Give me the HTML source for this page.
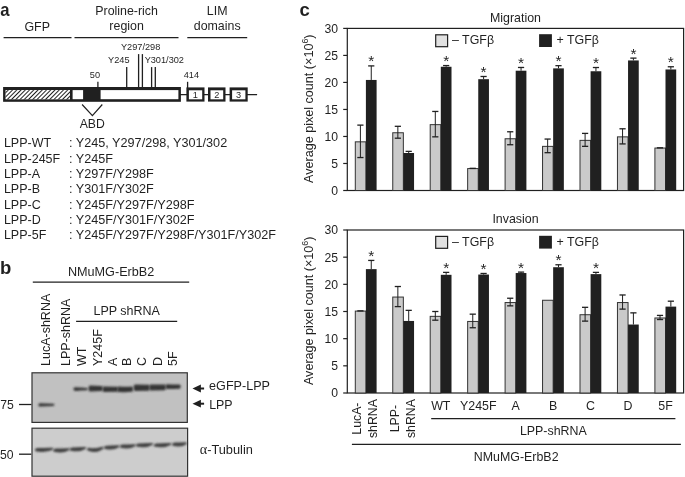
<!DOCTYPE html>
<html><head><meta charset="utf-8"><style>
html,body{margin:0;padding:0;background:#fff;}
svg{display:block;font-family:"Liberation Sans", sans-serif;filter:grayscale(1);}
svg text{fill:#231f20;}
svg line{stroke:#231f20;}
</style></head><body>
<svg width="685" height="477" viewBox="0 0 685 477">
<rect width="685" height="477" fill="#fff"/>
<text transform="translate(0.2,15.6) scale(0.9,1)" font-size="18.5" font-weight="bold" fill="#231f20">a</text>
<text x="37.2" y="30.5" font-size="12.4" text-anchor="middle">GFP</text>
<text x="126.6" y="15.4" font-size="12.4" text-anchor="middle">Proline-rich</text>
<text x="126.6" y="29.9" font-size="12.4" text-anchor="middle">region</text>
<text x="217.2" y="15.4" font-size="12.4" text-anchor="middle">LIM</text>
<text x="217.2" y="30.4" font-size="12.4" text-anchor="middle">domains</text>
<line x1="3.60" y1="37.60" x2="71.50" y2="37.60" stroke-width="1.3"/>
<line x1="74.50" y1="37.60" x2="178.50" y2="37.60" stroke-width="1.3"/>
<line x1="187.30" y1="37.60" x2="247.20" y2="37.60" stroke-width="1.3"/>
<line x1="180.00" y1="94.60" x2="257.10" y2="94.60" stroke-width="1.3"/>
<defs><pattern id="hatch" patternUnits="userSpaceOnUse" width="3.0" height="3.0" patternTransform="rotate(45)"><rect width="3.0" height="3.0" fill="#fff"/><rect width="1.0" height="3.0" fill="#231f20"/></pattern></defs>
<rect x="3.10" y="87.00" width="177.80" height="14.80" fill="#231f20"/>
<rect x="5.70" y="90.10" width="172.70" height="9.10" fill="#fff"/>
<rect x="5.70" y="90.10" width="64.30" height="9.10" fill="url(#hatch)"/>
<rect x="70.00" y="89.00" width="2.60" height="11.00" fill="#231f20"/>
<rect x="83.10" y="89.00" width="17.50" height="11.00" fill="#231f20"/>
<line x1="97.90" y1="81.80" x2="97.90" y2="88.00" stroke-width="1.3"/>
<text x="94.9" y="77.9" font-size="9.2" text-anchor="middle" fill="#2b2b2b">50</text>
<line x1="126.70" y1="67.10" x2="126.70" y2="88.00" stroke-width="1.3"/>
<text x="118.8" y="62.7" font-size="9.2" text-anchor="middle" fill="#2b2b2b">Y245</text>
<line x1="138.60" y1="54.10" x2="138.60" y2="88.00" stroke-width="1.3"/>
<line x1="142.40" y1="54.10" x2="142.40" y2="88.00" stroke-width="1.3"/>
<text x="140.6" y="49.5" font-size="9.2" text-anchor="middle" fill="#2b2b2b">Y297/298</text>
<line x1="151.60" y1="67.10" x2="151.60" y2="88.00" stroke-width="1.3"/>
<line x1="155.30" y1="67.10" x2="155.30" y2="88.00" stroke-width="1.3"/>
<text x="164.3" y="62.6" font-size="9.2" text-anchor="middle" fill="#2b2b2b">Y301/302</text>
<line x1="187.60" y1="81.80" x2="187.60" y2="88.00" stroke-width="1.3"/>
<text x="191.4" y="77.6" font-size="9.2" text-anchor="middle" fill="#2b2b2b">414</text>
<rect x="186.40" y="87.40" width="18.10" height="14.20" fill="#231f20"/>
<rect x="188.90" y="90.30" width="13.30" height="9.00" fill="#fff"/>
<text x="195.4" y="97.6" font-size="9.2" text-anchor="middle" fill="#2b2b2b">1</text>
<rect x="208.00" y="87.40" width="17.50" height="14.20" fill="#231f20"/>
<rect x="210.50" y="90.30" width="12.70" height="9.00" fill="#fff"/>
<text x="216.8" y="97.6" font-size="9.2" text-anchor="middle" fill="#2b2b2b">2</text>
<rect x="229.60" y="87.40" width="18.10" height="14.20" fill="#231f20"/>
<rect x="232.10" y="90.30" width="13.30" height="9.00" fill="#fff"/>
<text x="238.6" y="97.6" font-size="9.2" text-anchor="middle" fill="#2b2b2b">3</text>
<polyline points="82.1,104.5 92.4,115.6 102.3,104.5" fill="none" stroke="#231f20" stroke-width="1.2"/>
<text x="92.2" y="127.7" font-size="12.2" text-anchor="middle">ABD</text>
<text x="3.9" y="147.3" font-size="12.5">LPP-WT</text>
<text x="69.0" y="147.3" font-size="12.65">: Y245, Y297/298, Y301/302</text>
<text x="3.9" y="162.6" font-size="12.5">LPP-245F</text>
<text x="69.0" y="162.6" font-size="12.65">: Y245F</text>
<text x="3.9" y="177.9" font-size="12.5">LPP-A</text>
<text x="69.0" y="177.9" font-size="12.65">: Y297F/Y298F</text>
<text x="3.9" y="193.2" font-size="12.5">LPP-B</text>
<text x="69.0" y="193.2" font-size="12.65">: Y301F/Y302F</text>
<text x="3.9" y="208.5" font-size="12.5">LPP-C</text>
<text x="69.0" y="208.5" font-size="12.65">: Y245F/Y297F/Y298F</text>
<text x="3.9" y="223.8" font-size="12.5">LPP-D</text>
<text x="69.0" y="223.8" font-size="12.65">: Y245F/Y301F/Y302F</text>
<text x="3.9" y="239.1" font-size="12.5">LPP-5F</text>
<text x="69.0" y="239.1" font-size="12.65">: Y245F/Y297F/Y298F/Y301F/Y302F</text>
<text x="0.0" y="273.6" font-size="18.5" font-weight="bold">b</text>
<text x="111.1" y="276.2" font-size="12.65" text-anchor="middle">NMuMG-ErbB2</text>
<line x1="32.80" y1="282.20" x2="189.20" y2="282.20" stroke-width="1.3"/>
<text x="126.7" y="315.3" font-size="12.5" text-anchor="middle">LPP shRNA</text>
<line x1="76.10" y1="321.30" x2="177.20" y2="321.30" stroke-width="1.3"/>
<text transform="translate(50.40,366.0) rotate(-90)" x="0" y="0" font-size="12.5" fill="#231f20">LucA-shRNA</text>
<text transform="translate(69.90,366.0) rotate(-90)" x="0" y="0" font-size="12.5" fill="#231f20">LPP-shRNA</text>
<text transform="translate(86.20,366.0) rotate(-90)" x="0" y="0" font-size="12.5" fill="#231f20">WT</text>
<text transform="translate(101.60,366.0) rotate(-90)" x="0" y="0" font-size="12.5" fill="#231f20">Y245F</text>
<text transform="translate(116.60,366.0) rotate(-90)" x="0" y="0" font-size="12.5" fill="#231f20">A</text>
<text transform="translate(131.40,366.0) rotate(-90)" x="0" y="0" font-size="12.5" fill="#231f20">B</text>
<text transform="translate(146.40,366.0) rotate(-90)" x="0" y="0" font-size="12.5" fill="#231f20">C</text>
<text transform="translate(162.20,366.0) rotate(-90)" x="0" y="0" font-size="12.5" fill="#231f20">D</text>
<text transform="translate(177.40,366.0) rotate(-90)" x="0" y="0" font-size="12.5" fill="#231f20">5F</text>
<rect x="32.00" y="372.80" width="155.30" height="49.60" fill="#c0c1c4" stroke="#333" stroke-width="1.2"/>
<rect x="32.00" y="428.20" width="155.60" height="48.00" fill="#cccdcf" stroke="#333" stroke-width="1.2"/>
<line x1="19.00" y1="404.50" x2="31.40" y2="404.50" stroke-width="1.3"/>
<text x="0.2" y="408.8" font-size="12.2">75</text>
<line x1="19.00" y1="454.20" x2="31.30" y2="454.20" stroke-width="1.3"/>
<text x="0.0" y="458.8" font-size="12.2">50</text>
<defs><filter id="bl" x="-20%" y="-80%" width="140%" height="260%"><feGaussianBlur stdDeviation="0.85"/></filter></defs>
<path d="M38.40,404.90 C38.40,403.20 39.40,403.20 40.40,403.20 Q46.60,403.50 53.30,403.80 C54.80,403.80 54.80,406.00 53.30,406.00 Q46.60,406.30 40.40,406.60 C39.40,406.60 38.40,406.60 38.40,404.90Z" fill="#353539" filter="url(#bl)"/>
<path d="M73.50,389.10 C73.50,387.30 74.50,387.30 75.50,387.30 Q80.85,387.65 86.70,388.00 C88.20,388.00 88.20,390.20 86.70,390.20 Q80.85,390.55 75.50,390.90 C74.50,390.90 73.50,390.90 73.50,389.10Z" fill="#353539" filter="url(#bl)"/>
<path d="M88.60,388.40 C88.60,385.40 89.60,385.40 90.60,385.40 Q95.90,385.65 101.70,385.90 C103.20,385.90 103.20,390.90 101.70,390.90 Q95.90,391.15 90.60,391.40 C89.60,391.40 88.60,391.40 88.60,388.40Z" fill="#353539" filter="url(#bl)"/>
<path d="M102.60,389.20 C102.60,386.50 103.60,386.50 104.60,386.50 Q110.55,386.60 117.00,386.70 C118.50,386.70 118.50,391.70 117.00,391.70 Q110.55,391.80 104.60,391.90 C103.60,391.90 102.60,391.90 102.60,389.20Z" fill="#353539" filter="url(#bl)"/>
<path d="M117.30,389.20 C117.30,386.40 118.30,386.40 119.30,386.40 Q125.40,387.10 132.00,386.60 C133.50,386.60 133.50,391.80 132.00,391.80 Q125.40,392.50 119.30,392.00 C118.30,392.00 117.30,392.00 117.30,389.20Z" fill="#353539" filter="url(#bl)"/>
<path d="M133.70,387.70 C133.70,384.50 134.70,384.50 135.70,384.50 Q141.90,384.60 148.60,384.70 C150.10,384.70 150.10,390.70 148.60,390.70 Q141.90,390.80 135.70,390.90 C134.70,390.90 133.70,390.90 133.70,387.70Z" fill="#353539" filter="url(#bl)"/>
<path d="M149.30,387.40 C149.30,384.40 150.30,384.40 151.30,384.40 Q157.75,384.50 164.70,384.60 C166.20,384.60 166.20,390.20 164.70,390.20 Q157.75,390.30 151.30,390.40 C150.30,390.40 149.30,390.40 149.30,387.40Z" fill="#353539" filter="url(#bl)"/>
<path d="M165.50,386.70 C165.50,384.30 166.50,384.30 167.50,384.30 Q173.30,384.45 179.60,384.60 C181.10,384.60 181.10,388.80 179.60,388.80 Q173.30,388.95 167.50,389.10 C166.50,389.10 165.50,389.10 165.50,386.70Z" fill="#353539" filter="url(#bl)"/>
<path d="M34.80,449.80 Q35.30,448.11 37.80,448.11 Q44.20,448.11 51.10,447.69 Q53.60,447.48 53.60,449.16 Q46.20,453.15 36.80,451.47 Q34.80,451.26 34.80,449.80Z" fill="#3e3e42" filter="url(#bl)"/>
<path d="M53.10,450.30 Q53.60,448.61 56.10,448.61 Q61.50,448.61 67.40,448.19 Q69.90,447.98 69.90,449.66 Q63.50,453.65 55.10,451.97 Q53.10,451.76 53.10,450.30Z" fill="#3e3e42" filter="url(#bl)"/>
<path d="M69.50,449.20 Q70.00,447.51 72.50,447.51 Q77.90,447.51 83.80,447.09 Q86.30,446.88 86.30,448.56 Q79.90,452.55 71.50,450.87 Q69.50,450.66 69.50,449.20Z" fill="#3e3e42" filter="url(#bl)"/>
<path d="M87.00,449.00 Q87.50,447.31 90.00,448.03 Q95.40,448.75 101.30,446.89 Q103.80,446.68 103.80,448.36 Q97.40,454.03 89.00,451.03 Q87.00,450.46 87.00,449.00Z" fill="#3e3e42" filter="url(#bl)"/>
<path d="M103.80,447.40 Q104.30,445.71 106.80,445.71 Q111.80,445.71 117.30,445.29 Q119.80,445.08 119.80,446.76 Q113.80,450.75 105.80,449.07 Q103.80,448.86 103.80,447.40Z" fill="#3e3e42" filter="url(#bl)"/>
<path d="M119.80,446.30 Q120.30,444.61 122.80,444.61 Q127.90,444.61 133.50,444.19 Q136.00,443.98 136.00,445.66 Q129.90,449.65 121.80,447.97 Q119.80,447.76 119.80,446.30Z" fill="#3e3e42" filter="url(#bl)"/>
<path d="M135.80,445.10 Q136.30,443.41 138.80,443.41 Q144.50,443.41 150.70,442.99 Q153.20,442.78 153.20,444.46 Q146.50,448.45 137.80,446.77 Q135.80,446.56 135.80,445.10Z" fill="#3e3e42" filter="url(#bl)"/>
<path d="M153.60,445.10 Q154.10,443.41 156.60,443.41 Q162.60,443.41 169.10,442.99 Q171.60,442.78 171.60,444.46 Q164.60,448.45 155.60,446.77 Q153.60,446.56 153.60,445.10Z" fill="#3e3e42" filter="url(#bl)"/>
<path d="M172.00,444.30 Q172.50,442.61 175.00,442.61 Q179.60,442.61 184.70,442.19 Q187.20,441.98 187.20,443.66 Q181.60,447.65 174.00,445.97 Q172.00,445.76 172.00,444.30Z" fill="#3e3e42" filter="url(#bl)"/>
<polygon points="192.5,388.50 200.9,384.60 200.9,392.40" fill="#231f20"/>
<line x1="199.00" y1="388.50" x2="204.10" y2="388.50" stroke-width="2.0"/>
<polygon points="192.5,403.70 200.9,399.80 200.9,407.60" fill="#231f20"/>
<line x1="199.00" y1="403.70" x2="204.10" y2="403.70" stroke-width="2.0"/>
<text x="209.1" y="389.6" font-size="12.6">eGFP-LPP</text>
<text x="209.2" y="409.0" font-size="12.4">LPP</text>
<text x="199.7" y="453.5" font-size="12.8"><tspan font-family="Liberation Serif" font-size="14.2">&#945;</tspan>-Tubulin</text>
<text x="299.6" y="15.5" font-size="18.5" font-weight="bold">c</text>
<text x="515.5" y="21.8" font-size="12.4" text-anchor="middle">Migration</text>
<rect x="347.30" y="28.40" width="336.30" height="162.10" fill="none" stroke="#231f20" stroke-width="1.2"/>
<line x1="343.20" y1="190.50" x2="347.30" y2="190.50" stroke-width="1.2"/>
<text x="338.0" y="194.8" font-size="12.2" text-anchor="end">0</text>
<line x1="343.20" y1="163.48" x2="347.30" y2="163.48" stroke-width="1.2"/>
<text x="338.0" y="167.8" font-size="12.2" text-anchor="end">5</text>
<line x1="343.20" y1="136.47" x2="347.30" y2="136.47" stroke-width="1.2"/>
<text x="338.0" y="140.8" font-size="12.2" text-anchor="end">10</text>
<line x1="343.20" y1="109.45" x2="347.30" y2="109.45" stroke-width="1.2"/>
<text x="338.0" y="113.8" font-size="12.2" text-anchor="end">15</text>
<line x1="343.20" y1="82.43" x2="347.30" y2="82.43" stroke-width="1.2"/>
<text x="338.0" y="86.7" font-size="12.2" text-anchor="end">20</text>
<line x1="343.20" y1="55.42" x2="347.30" y2="55.42" stroke-width="1.2"/>
<text x="338.0" y="59.7" font-size="12.2" text-anchor="end">25</text>
<line x1="343.20" y1="28.40" x2="347.30" y2="28.40" stroke-width="1.2"/>
<text x="338.0" y="32.7" font-size="12.2" text-anchor="end">30</text>
<text transform="translate(312.9,108.75) rotate(-90)" x="0" y="0" font-size="12.6" text-anchor="middle" fill="#231f20">Average pixel count (×10<tspan font-size="8.8" dy="-4.6">6</tspan><tspan dy="4.6">)</tspan></text>
<rect x="435.70" y="34.80" width="11.90" height="11.90" fill="#e1e1e1" stroke="#231f20" stroke-width="1.2"/>
<text x="452.0" y="44.3" font-size="12.4">– TGFβ</text>
<rect x="539.10" y="34.20" width="12.80" height="12.80" fill="#231f20"/>
<text x="556.5" y="44.3" font-size="12.4">+ TGFβ</text>
<rect x="355.30" y="141.83" width="10.60" height="48.67" fill="#c9cacd" stroke="#333" stroke-width="1.0"/>
<rect x="365.90" y="79.95" width="10.70" height="110.55" fill="#231f20"/>
<line x1="360.40" y1="125.12" x2="360.40" y2="157.54" stroke-width="1.0"/>
<line x1="357.30" y1="125.12" x2="363.50" y2="125.12" stroke-width="1.3"/>
<line x1="357.30" y1="157.54" x2="363.50" y2="157.54" stroke-width="1.3"/>
<line x1="371.25" y1="65.90" x2="371.25" y2="79.95" stroke-width="1.0"/>
<line x1="368.15" y1="65.90" x2="374.35" y2="65.90" stroke-width="1.3"/>
<text x="371.25" y="66.30" font-size="15.5" text-anchor="middle" fill="#231f20">*</text>
<rect x="392.75" y="132.75" width="10.60" height="57.75" fill="#c9cacd" stroke="#333" stroke-width="1.0"/>
<rect x="403.35" y="153.00" width="10.70" height="37.50" fill="#231f20"/>
<line x1="397.85" y1="126.31" x2="397.85" y2="138.20" stroke-width="1.0"/>
<line x1="394.75" y1="126.31" x2="400.95" y2="126.31" stroke-width="1.3"/>
<line x1="394.75" y1="138.20" x2="400.95" y2="138.20" stroke-width="1.3"/>
<line x1="408.70" y1="151.38" x2="408.70" y2="153.00" stroke-width="1.0"/>
<line x1="405.60" y1="151.38" x2="411.80" y2="151.38" stroke-width="1.3"/>
<rect x="430.20" y="124.65" width="10.60" height="65.85" fill="#c9cacd" stroke="#333" stroke-width="1.0"/>
<rect x="440.80" y="66.76" width="10.70" height="123.74" fill="#231f20"/>
<line x1="435.30" y1="111.45" x2="435.30" y2="136.84" stroke-width="1.0"/>
<line x1="432.20" y1="111.45" x2="438.40" y2="111.45" stroke-width="1.3"/>
<line x1="432.20" y1="136.84" x2="438.40" y2="136.84" stroke-width="1.3"/>
<line x1="446.15" y1="65.57" x2="446.15" y2="66.76" stroke-width="1.0"/>
<line x1="443.05" y1="65.57" x2="449.25" y2="65.57" stroke-width="1.3"/>
<text x="446.15" y="65.97" font-size="15.5" text-anchor="middle" fill="#231f20">*</text>
<rect x="467.65" y="168.58" width="10.60" height="21.92" fill="#c9cacd" stroke="#333" stroke-width="1.0"/>
<rect x="478.25" y="79.19" width="10.70" height="111.31" fill="#231f20"/>
<line x1="469.65" y1="168.38" x2="475.85" y2="168.38" stroke-width="1.4"/>
<line x1="483.60" y1="76.49" x2="483.60" y2="79.19" stroke-width="1.0"/>
<line x1="480.50" y1="76.49" x2="486.70" y2="76.49" stroke-width="1.3"/>
<text x="483.60" y="76.89" font-size="15.5" text-anchor="middle" fill="#231f20">*</text>
<rect x="505.10" y="138.75" width="10.60" height="51.75" fill="#c9cacd" stroke="#333" stroke-width="1.0"/>
<rect x="515.70" y="70.71" width="10.70" height="119.79" fill="#231f20"/>
<line x1="510.20" y1="131.77" x2="510.20" y2="144.73" stroke-width="1.0"/>
<line x1="507.10" y1="131.77" x2="513.30" y2="131.77" stroke-width="1.3"/>
<line x1="507.10" y1="144.73" x2="513.30" y2="144.73" stroke-width="1.3"/>
<line x1="521.05" y1="67.47" x2="521.05" y2="70.71" stroke-width="1.0"/>
<line x1="517.95" y1="67.47" x2="524.15" y2="67.47" stroke-width="1.3"/>
<text x="521.05" y="67.87" font-size="15.5" text-anchor="middle" fill="#231f20">*</text>
<rect x="542.55" y="146.37" width="10.60" height="44.13" fill="#c9cacd" stroke="#333" stroke-width="1.0"/>
<rect x="553.15" y="68.38" width="10.70" height="122.12" fill="#231f20"/>
<line x1="547.65" y1="139.06" x2="547.65" y2="152.68" stroke-width="1.0"/>
<line x1="544.55" y1="139.06" x2="550.75" y2="139.06" stroke-width="1.3"/>
<line x1="544.55" y1="152.68" x2="550.75" y2="152.68" stroke-width="1.3"/>
<line x1="558.50" y1="65.68" x2="558.50" y2="68.38" stroke-width="1.0"/>
<line x1="555.40" y1="65.68" x2="561.60" y2="65.68" stroke-width="1.3"/>
<text x="558.50" y="66.08" font-size="15.5" text-anchor="middle" fill="#231f20">*</text>
<rect x="580.00" y="140.37" width="10.60" height="50.13" fill="#c9cacd" stroke="#333" stroke-width="1.0"/>
<rect x="590.60" y="71.25" width="10.70" height="119.25" fill="#231f20"/>
<line x1="585.10" y1="133.39" x2="585.10" y2="146.35" stroke-width="1.0"/>
<line x1="582.00" y1="133.39" x2="588.20" y2="133.39" stroke-width="1.3"/>
<line x1="582.00" y1="146.35" x2="588.20" y2="146.35" stroke-width="1.3"/>
<line x1="595.95" y1="67.52" x2="595.95" y2="71.25" stroke-width="1.0"/>
<line x1="592.85" y1="67.52" x2="599.05" y2="67.52" stroke-width="1.3"/>
<text x="595.95" y="67.92" font-size="15.5" text-anchor="middle" fill="#231f20">*</text>
<rect x="617.45" y="136.86" width="10.60" height="53.64" fill="#c9cacd" stroke="#333" stroke-width="1.0"/>
<rect x="628.05" y="60.44" width="10.70" height="130.06" fill="#231f20"/>
<line x1="622.55" y1="128.79" x2="622.55" y2="143.92" stroke-width="1.0"/>
<line x1="619.45" y1="128.79" x2="625.65" y2="128.79" stroke-width="1.3"/>
<line x1="619.45" y1="143.92" x2="625.65" y2="143.92" stroke-width="1.3"/>
<line x1="633.40" y1="58.12" x2="633.40" y2="60.44" stroke-width="1.0"/>
<line x1="630.30" y1="58.12" x2="636.50" y2="58.12" stroke-width="1.3"/>
<text x="633.40" y="58.52" font-size="15.5" text-anchor="middle" fill="#231f20">*</text>
<rect x="654.90" y="148.04" width="10.60" height="42.46" fill="#c9cacd" stroke="#333" stroke-width="1.0"/>
<rect x="665.50" y="69.47" width="10.70" height="121.03" fill="#231f20"/>
<line x1="656.90" y1="147.84" x2="663.10" y2="147.84" stroke-width="1.4"/>
<line x1="670.85" y1="66.76" x2="670.85" y2="69.47" stroke-width="1.0"/>
<line x1="667.75" y1="66.76" x2="673.95" y2="66.76" stroke-width="1.3"/>
<text x="670.85" y="67.16" font-size="15.5" text-anchor="middle" fill="#231f20">*</text>
<text x="515.5" y="223.4" font-size="12.4" text-anchor="middle">Invasion</text>
<rect x="347.30" y="230.00" width="336.30" height="163.00" fill="none" stroke="#231f20" stroke-width="1.2"/>
<line x1="343.20" y1="393.00" x2="347.30" y2="393.00" stroke-width="1.2"/>
<text x="338.0" y="397.3" font-size="12.2" text-anchor="end">0</text>
<line x1="343.20" y1="365.83" x2="347.30" y2="365.83" stroke-width="1.2"/>
<text x="338.0" y="370.1" font-size="12.2" text-anchor="end">5</text>
<line x1="343.20" y1="338.67" x2="347.30" y2="338.67" stroke-width="1.2"/>
<text x="338.0" y="343.0" font-size="12.2" text-anchor="end">10</text>
<line x1="343.20" y1="311.50" x2="347.30" y2="311.50" stroke-width="1.2"/>
<text x="338.0" y="315.8" font-size="12.2" text-anchor="end">15</text>
<line x1="343.20" y1="284.33" x2="347.30" y2="284.33" stroke-width="1.2"/>
<text x="338.0" y="288.6" font-size="12.2" text-anchor="end">20</text>
<line x1="343.20" y1="257.17" x2="347.30" y2="257.17" stroke-width="1.2"/>
<text x="338.0" y="261.5" font-size="12.2" text-anchor="end">25</text>
<line x1="343.20" y1="230.00" x2="347.30" y2="230.00" stroke-width="1.2"/>
<text x="338.0" y="234.3" font-size="12.2" text-anchor="end">30</text>
<text transform="translate(312.9,310.80) rotate(-90)" x="0" y="0" font-size="12.6" text-anchor="middle" fill="#231f20">Average pixel count (×10<tspan font-size="8.8" dy="-4.6">6</tspan><tspan dy="4.6">)</tspan></text>
<rect x="435.70" y="236.40" width="11.90" height="11.90" fill="#e1e1e1" stroke="#231f20" stroke-width="1.2"/>
<text x="452.0" y="245.9" font-size="12.4">– TGFβ</text>
<rect x="539.10" y="235.80" width="12.80" height="12.80" fill="#231f20"/>
<text x="556.5" y="245.9" font-size="12.4">+ TGFβ</text>
<rect x="355.30" y="311.08" width="10.60" height="81.92" fill="#c9cacd" stroke="#333" stroke-width="1.0"/>
<rect x="365.90" y="269.12" width="10.70" height="123.88" fill="#231f20"/>
<line x1="357.30" y1="310.88" x2="363.50" y2="310.88" stroke-width="1.4"/>
<line x1="371.25" y1="260.43" x2="371.25" y2="269.12" stroke-width="1.0"/>
<line x1="368.15" y1="260.43" x2="374.35" y2="260.43" stroke-width="1.3"/>
<text x="371.25" y="260.83" font-size="15.5" text-anchor="middle" fill="#231f20">*</text>
<rect x="392.75" y="297.06" width="10.60" height="95.94" fill="#c9cacd" stroke="#333" stroke-width="1.0"/>
<rect x="403.35" y="320.95" width="10.70" height="72.05" fill="#231f20"/>
<line x1="397.85" y1="286.51" x2="397.85" y2="306.61" stroke-width="1.0"/>
<line x1="394.75" y1="286.51" x2="400.95" y2="286.51" stroke-width="1.3"/>
<line x1="394.75" y1="306.61" x2="400.95" y2="306.61" stroke-width="1.3"/>
<line x1="408.70" y1="310.36" x2="408.70" y2="320.95" stroke-width="1.0"/>
<line x1="405.60" y1="310.36" x2="411.80" y2="310.36" stroke-width="1.3"/>
<rect x="430.20" y="316.35" width="10.60" height="76.65" fill="#c9cacd" stroke="#333" stroke-width="1.0"/>
<rect x="440.80" y="274.82" width="10.70" height="118.18" fill="#231f20"/>
<line x1="435.30" y1="311.50" x2="435.30" y2="320.19" stroke-width="1.0"/>
<line x1="432.20" y1="311.50" x2="438.40" y2="311.50" stroke-width="1.3"/>
<line x1="432.20" y1="320.19" x2="438.40" y2="320.19" stroke-width="1.3"/>
<line x1="446.15" y1="272.38" x2="446.15" y2="274.82" stroke-width="1.0"/>
<line x1="443.05" y1="272.38" x2="449.25" y2="272.38" stroke-width="1.3"/>
<text x="446.15" y="272.78" font-size="15.5" text-anchor="middle" fill="#231f20">*</text>
<rect x="467.65" y="321.45" width="10.60" height="71.55" fill="#c9cacd" stroke="#333" stroke-width="1.0"/>
<rect x="478.25" y="274.55" width="10.70" height="118.45" fill="#231f20"/>
<line x1="472.75" y1="314.16" x2="472.75" y2="327.75" stroke-width="1.0"/>
<line x1="469.65" y1="314.16" x2="475.85" y2="314.16" stroke-width="1.3"/>
<line x1="469.65" y1="327.75" x2="475.85" y2="327.75" stroke-width="1.3"/>
<line x1="483.60" y1="273.47" x2="483.60" y2="274.55" stroke-width="1.0"/>
<line x1="480.50" y1="273.47" x2="486.70" y2="273.47" stroke-width="1.3"/>
<text x="483.60" y="273.87" font-size="15.5" text-anchor="middle" fill="#231f20">*</text>
<rect x="505.10" y="302.55" width="10.60" height="90.45" fill="#c9cacd" stroke="#333" stroke-width="1.0"/>
<rect x="515.70" y="273.03" width="10.70" height="119.97" fill="#231f20"/>
<line x1="510.20" y1="298.24" x2="510.20" y2="305.85" stroke-width="1.0"/>
<line x1="507.10" y1="298.24" x2="513.30" y2="298.24" stroke-width="1.3"/>
<line x1="507.10" y1="305.85" x2="513.30" y2="305.85" stroke-width="1.3"/>
<line x1="521.05" y1="272.11" x2="521.05" y2="273.03" stroke-width="1.0"/>
<line x1="517.95" y1="272.11" x2="524.15" y2="272.11" stroke-width="1.3"/>
<text x="521.05" y="272.51" font-size="15.5" text-anchor="middle" fill="#231f20">*</text>
<rect x="542.55" y="300.26" width="10.60" height="92.74" fill="#c9cacd" stroke="#333" stroke-width="1.0"/>
<rect x="553.15" y="267.22" width="10.70" height="125.78" fill="#231f20"/>
<line x1="558.50" y1="264.77" x2="558.50" y2="267.22" stroke-width="1.0"/>
<line x1="555.40" y1="264.77" x2="561.60" y2="264.77" stroke-width="1.3"/>
<text x="558.50" y="265.17" font-size="15.5" text-anchor="middle" fill="#231f20">*</text>
<rect x="580.00" y="314.72" width="10.60" height="78.28" fill="#c9cacd" stroke="#333" stroke-width="1.0"/>
<rect x="590.60" y="274.12" width="10.70" height="118.88" fill="#231f20"/>
<line x1="585.10" y1="307.32" x2="585.10" y2="321.12" stroke-width="1.0"/>
<line x1="582.00" y1="307.32" x2="588.20" y2="307.32" stroke-width="1.3"/>
<line x1="582.00" y1="321.12" x2="588.20" y2="321.12" stroke-width="1.3"/>
<line x1="595.95" y1="272.38" x2="595.95" y2="274.12" stroke-width="1.0"/>
<line x1="592.85" y1="272.38" x2="599.05" y2="272.38" stroke-width="1.3"/>
<text x="595.95" y="272.78" font-size="15.5" text-anchor="middle" fill="#231f20">*</text>
<rect x="617.45" y="302.55" width="10.60" height="90.45" fill="#c9cacd" stroke="#333" stroke-width="1.0"/>
<rect x="628.05" y="324.54" width="10.70" height="68.46" fill="#231f20"/>
<line x1="622.55" y1="294.98" x2="622.55" y2="309.11" stroke-width="1.0"/>
<line x1="619.45" y1="294.98" x2="625.65" y2="294.98" stroke-width="1.3"/>
<line x1="619.45" y1="309.11" x2="625.65" y2="309.11" stroke-width="1.3"/>
<line x1="633.40" y1="312.86" x2="633.40" y2="324.54" stroke-width="1.0"/>
<line x1="630.30" y1="312.86" x2="636.50" y2="312.86" stroke-width="1.3"/>
<rect x="654.90" y="317.98" width="10.60" height="75.02" fill="#c9cacd" stroke="#333" stroke-width="1.0"/>
<rect x="665.50" y="306.61" width="10.70" height="86.39" fill="#231f20"/>
<line x1="660.00" y1="315.41" x2="660.00" y2="319.54" stroke-width="1.0"/>
<line x1="656.90" y1="315.41" x2="663.10" y2="315.41" stroke-width="1.3"/>
<line x1="656.90" y1="319.54" x2="663.10" y2="319.54" stroke-width="1.3"/>
<line x1="670.85" y1="301.18" x2="670.85" y2="306.61" stroke-width="1.0"/>
<line x1="667.75" y1="301.18" x2="673.95" y2="301.18" stroke-width="1.3"/>
<text transform="translate(361.00,418.6) rotate(-90)" font-size="12.3" text-anchor="middle" fill="#231f20">LucA-</text>
<text transform="translate(377.20,418.6) rotate(-90)" font-size="12.3" text-anchor="middle" fill="#231f20">shRNA</text>
<text transform="translate(399.45,418.6) rotate(-90)" font-size="12.3" text-anchor="middle" fill="#231f20">LPP-</text>
<text transform="translate(414.65,418.6) rotate(-90)" font-size="12.3" text-anchor="middle" fill="#231f20">shRNA</text>
<text x="440.8" y="409.9" font-size="12.4" text-anchor="middle">WT</text>
<text x="478.3" y="409.9" font-size="12.4" text-anchor="middle">Y245F</text>
<text x="515.7" y="409.9" font-size="12.4" text-anchor="middle">A</text>
<text x="553.1" y="409.9" font-size="12.4" text-anchor="middle">B</text>
<text x="590.6" y="409.9" font-size="12.4" text-anchor="middle">C</text>
<text x="628.1" y="409.9" font-size="12.4" text-anchor="middle">D</text>
<text x="665.5" y="409.9" font-size="12.4" text-anchor="middle">5F</text>
<line x1="431.20" y1="418.60" x2="675.40" y2="418.60" stroke-width="1.3"/>
<text x="553.3" y="435.0" font-size="12.4" text-anchor="middle">LPP-shRNA</text>
<line x1="351.90" y1="444.30" x2="680.90" y2="444.30" stroke-width="1.3"/>
<text x="516.2" y="460.5" font-size="12.4" text-anchor="middle">NMuMG-ErbB2</text>
</svg>
</body></html>
